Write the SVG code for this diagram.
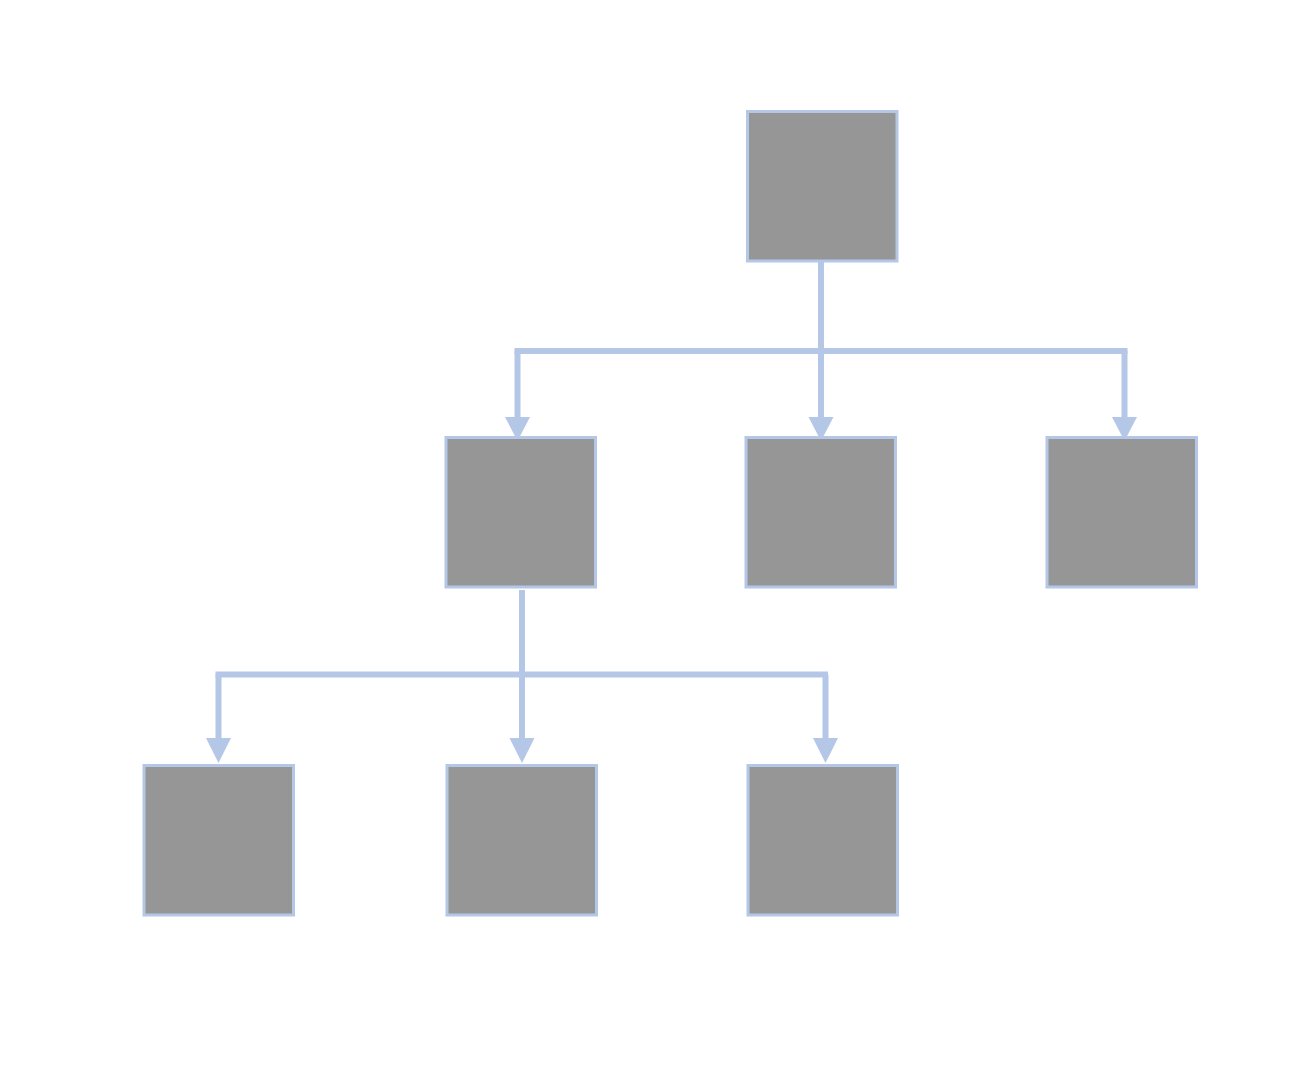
<svg xmlns="http://www.w3.org/2000/svg" width="1314" height="1074" viewBox="0 0 1314 1074">
<style>
.node{fill:#969696;stroke:#b4c7e7;stroke-width:3}
.link{fill:none;stroke:#b4c7e7;stroke-width:6}
.head{fill:#b4c7e7;stroke:none}
</style>
<rect width="1314" height="1074" fill="#ffffff"/>
<g id="connectors">
<path class="link" d="M821,261 V418"/>
<path class="link" d="M514.5,351 H1127.5"/>
<path class="link" d="M517.5,351 V418"/>
<path class="link" d="M1124.5,351 V418"/>
<polygon class="head" points="808.5,417 833.5,417 821,441"/>
<polygon class="head" points="505,417 530,417 517.5,441"/>
<polygon class="head" points="1112,417 1137,417 1124.5,441"/>
<path class="link" d="M522,590 V740"/>
<path class="link" d="M215.5,674.5 H828"/>
<path class="link" d="M218.5,674.5 V740"/>
<path class="link" d="M825.5,674.5 V740"/>
<polygon class="head" points="206,738 231,738 218.5,763"/>
<polygon class="head" points="509.5,738 534.5,738 522,763"/>
<polygon class="head" points="813,738 838,738 825.5,763"/>
</g>
<g id="n0"><rect class="node" x="747.5" y="111.5" width="149.5" height="149.5"/></g>
<g id="n1"><rect class="node" x="446" y="437.5" width="149.5" height="149.5"/></g>
<g id="n2"><rect class="node" x="746" y="437.5" width="149.5" height="149.5"/></g>
<g id="n3"><rect class="node" x="1047" y="437.5" width="149.5" height="149.5"/></g>
<g id="n4"><rect class="node" x="144" y="765.5" width="149.5" height="149.5"/></g>
<g id="n5"><rect class="node" x="447" y="765.5" width="149.5" height="149.5"/></g>
<g id="n6"><rect class="node" x="748" y="765.5" width="149.5" height="149.5"/></g>
</svg>
